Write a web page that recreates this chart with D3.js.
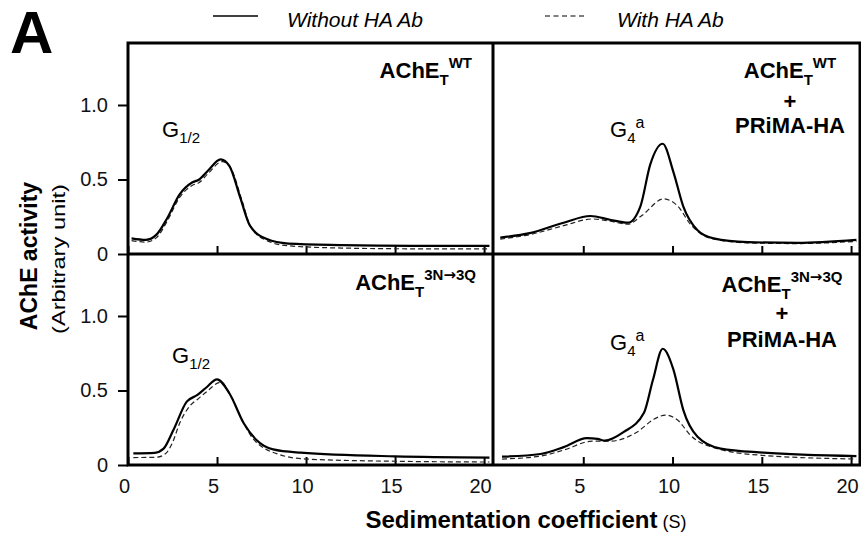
<!DOCTYPE html>
<html>
<head>
<meta charset="utf-8">
<script src="https://cdn.jsdelivr.net/npm/d3@7"></script>
<style>
  body { margin: 0; background: #fff; }
  svg { display: block; font-family: "Liberation Sans", Arial, sans-serif; }
</style>
</head>
<body>
<svg id="chart" width="861" height="535"></svg>
<script>
// sedimentation coefficient (S) vs AChE activity
const xTicksLeft = [0, 5, 10, 15, 20];
const xTicksRight = [5, 10, 15, 20];
const yTicks = [0, 0.5, 1.0];

const wtWithout = [[0.2,0.105],[1.0,0.095],[1.6,0.13],[2.2,0.24],[2.9,0.40],[3.6,0.48],[4.0,0.50],[4.5,0.56],[5.2,0.635],[5.7,0.59],[6.3,0.38],[6.85,0.19],[7.8,0.10],[9.0,0.07],[12,0.06],[16,0.055],[20.3,0.055]];
const wtWith = [[0.2,0.09],[1.0,0.08],[1.6,0.11],[2.2,0.22],[2.9,0.38],[3.6,0.46],[4.0,0.48],[4.5,0.54],[5.3,0.62],[5.8,0.57],[6.4,0.36],[6.9,0.18],[7.8,0.09],[9.0,0.055],[12,0.04],[16,0.035],[20.3,0.035]];

const wtPrimaWithout = [[0.35,0.11],[2.0,0.14],[3.9,0.21],[5.4,0.255],[6.5,0.23],[7.5,0.21],[8.2,0.32],[8.75,0.60],[9.45,0.74],[10.05,0.55],[10.6,0.32],[11.4,0.16],[12.3,0.105],[14.2,0.08],[17.0,0.075],[20.3,0.095]];
const wtPrimaWith = [[0.35,0.10],[2.0,0.13],[3.9,0.19],[5.5,0.235],[6.5,0.22],[7.5,0.20],[8.3,0.26],[9.5,0.37],[10.3,0.32],[11.0,0.20],[11.8,0.12],[12.8,0.09],[14.2,0.075],[17.0,0.07],[20.3,0.085]];

const mutWithout = [[0.3,0.078],[1.5,0.082],[2.0,0.11],[2.55,0.235],[3.3,0.425],[3.9,0.47],[4.4,0.52],[5.0,0.575],[5.7,0.48],[6.5,0.28],[7.2,0.17],[8.15,0.105],[9.7,0.083],[15,0.058],[20.3,0.05]];
const mutWith = [[0.3,0.05],[1.6,0.052],[2.1,0.075],[2.5,0.15],[2.9,0.28],[3.5,0.40],[3.9,0.44],[4.4,0.49],[5.2,0.555],[5.8,0.46],[6.5,0.28],[7.0,0.18],[8.5,0.07],[10,0.04],[15,0.025],[20.3,0.02]];

const mutPrimaWithout = [[0.45,0.056],[2.6,0.074],[3.9,0.12],[5.2,0.18],[5.8,0.175],[6.2,0.163],[7.25,0.22],[8.4,0.35],[8.9,0.57],[9.45,0.78],[10.05,0.64],[10.6,0.37],[11.4,0.19],[12.7,0.11],[15.1,0.083],[20.3,0.06]];
const mutPrimaWith = [[0.45,0.04],[2.6,0.06],[3.9,0.10],[5.5,0.16],[6.5,0.16],[8.0,0.22],[9.0,0.31],[9.6,0.335],[10.3,0.30],[11.0,0.20],[12.5,0.11],[15,0.065],[20.3,0.04]];

const svg = d3.select('#chart');
const font = '"Liberation Sans", Arial, sans-serif';

const frameL = 128, frameMid = 493, frameR = 860;
const frameT = 43, frameMidY = 254, frameB = 465;
const xMax = 20.5, yMax = 1.416;

const panels = [
  { col: 0, row: 0, solid: wtWithout, dashed: wtWith },
  { col: 1, row: 0, solid: wtPrimaWithout, dashed: wtPrimaWith },
  { col: 0, row: 1, solid: mutWithout, dashed: mutWith },
  { col: 1, row: 1, solid: mutPrimaWithout, dashed: mutPrimaWith }
];

panels.forEach(p => {
  const x0 = p.col === 0 ? frameL : frameMid + 1;
  const x1 = p.col === 0 ? frameMid : frameR;
  const y0 = p.row === 0 ? frameMidY : frameB;
  const y1 = p.row === 0 ? frameT : frameMidY;

  const x = d3.scaleLinear().domain([0, xMax]).range([x0, x1]);
  const y = d3.scaleLinear().domain([0, yMax]).range([y0, y1]);

  // bottom ticks pointing inward
  const xAxis = d3.axisBottom(x)
    .tickValues(p.col === 0 ? xTicksLeft : xTicksRight)
    .tickSizeInner(-8).tickSizeOuter(0).tickPadding(18);
  if (p.row === 0) xAxis.tickFormat('');
  const gx = svg.append('g').attr('transform', `translate(0,${y0})`).call(xAxis);
  gx.select('.domain').remove();
  gx.selectAll('line').attr('stroke', '#000').attr('stroke-width', 2);
  gx.selectAll('text').attr('font-size', 20).attr('font-family', font).attr('fill', '#111').attr('dx', -4).attr('dy', '0.5em');

  if (p.col === 0) {
    const gy = svg.append('g').attr('transform', `translate(${frameL},0)`)
      .call(d3.axisLeft(y).tickValues(yTicks).tickSizeInner(10).tickSizeOuter(0).tickPadding(10)
        .tickFormat(d => d === 0 ? '0' : d3.format('.1f')(d)));
    gy.select('.domain').remove();
    gy.selectAll('line').attr('stroke', '#000').attr('stroke-width', 2);
    gy.selectAll('text').attr('font-size', 20).attr('font-family', font).attr('fill', '#111');
  }

  const line = d3.line().x(d => x(d[0])).y(d => y(d[1])).curve(d3.curveMonotoneX);
  svg.append('path').datum(p.dashed).attr('d', line)
    .attr('fill', 'none').attr('stroke', '#222').attr('stroke-width', 1.2).attr('stroke-dasharray', '5,3');
  svg.append('path').datum(p.solid).attr('d', line)
    .attr('fill', 'none').attr('stroke', '#000').attr('stroke-width', 2.2);
});

// frame
const frame = svg.append('g').attr('stroke', '#000').attr('stroke-width', 3).attr('fill', 'none');
frame.append('rect').attr('x', frameL).attr('y', frameT).attr('width', frameR - frameL).attr('height', frameB - frameT);
frame.append('line').attr('x1', frameMid).attr('x2', frameMid).attr('y1', frameT).attr('y2', frameB);
frame.append('line').attr('x1', frameL).attr('x2', frameR).attr('y1', frameMidY).attr('y2', frameMidY);

// text helpers
function richText(xp, yp, anchor, parts) {
  const t = svg.append('text').attr('x', xp).attr('y', yp).attr('text-anchor', anchor)
    .attr('font-family', font).attr('fill', '#000');
  parts.forEach(pt => {
    const s = t.append('tspan').text(pt.t).attr('font-size', pt.size);
    if (pt.bold) s.attr('font-weight', 'bold');
    if (pt.italic) s.attr('font-style', 'italic');
    if (pt.dy) s.attr('dy', pt.dy);
    if (pt.family) s.attr('font-family', pt.family);
  });
  return t;
}
function acheLabel(xp, yp, anchor, sup) {
  const parts = [
    { t: 'AChE', size: 22, bold: true },
    { t: 'T', size: 15, bold: true, dy: 7 }
  ];
  if (sup === 'WT') {
    parts.push({ t: 'WT', size: 15, bold: true, dy: -17 });
  } else {
    parts.push({ t: '3N', size: 15, bold: true, dy: -17 });
    parts.push({ t: '\u2192', size: 15, bold: true, family: '"DejaVu Sans", sans-serif' });
    parts.push({ t: '3Q', size: 15, bold: true });
  }
  return richText(xp, yp, anchor, parts);
}

acheLabel(472, 78, 'end', 'WT');
acheLabel(476, 290, 'end', 'mut');

acheLabel(790, 78, 'middle', 'WT');
richText(790, 109, 'middle', [{ t: '+', size: 22, bold: true }]);
richText(790, 133, 'middle', [{ t: 'PRiMA-HA', size: 22, bold: true }]);

acheLabel(782, 292, 'middle', 'mut');
richText(782, 321, 'middle', [{ t: '+', size: 22, bold: true }]);
richText(782, 347, 'middle', [{ t: 'PRiMA-HA', size: 22, bold: true }]);

// peak labels
richText(162, 137, 'start', [{ t: 'G', size: 22 }, { t: '1/2', size: 15, dy: 6 }]);
richText(172, 363, 'start', [{ t: 'G', size: 22 }, { t: '1/2', size: 15, dy: 6 }]);
richText(610, 137, 'start', [{ t: 'G', size: 22 }, { t: '4', size: 15, dy: 6 }, { t: 'a', size: 16, dy: -15 }]);
richText(610, 350, 'start', [{ t: 'G', size: 22 }, { t: '4', size: 15, dy: 6 }, { t: 'a', size: 16, dy: -15 }]);

// panel letter
richText(10, 53, 'start', [{ t: 'A', size: 60, bold: true }]);

// legend
svg.append('line').attr('x1', 213).attr('x2', 258).attr('y1', 16).attr('y2', 16).attr('stroke', '#000').attr('stroke-width', 1.5);
richText(287, 27, 'start', [{ t: 'Without HA Ab', size: 21, italic: true }]);
svg.append('line').attr('x1', 545).attr('x2', 585).attr('y1', 16).attr('y2', 16).attr('stroke', '#000').attr('stroke-width', 1.2).attr('stroke-dasharray', '5,3.5');
richText(617, 27, 'start', [{ t: 'With HA Ab', size: 21, italic: true }]);

// axis titles
richText(526, 528, 'middle', [{ t: 'Sedimentation coefficient', size: 24, bold: true }, { t: ' (S)', size: 18 }]);
svg.append('text').attr('transform', 'translate(37,256) rotate(-90)').attr('text-anchor', 'middle')
  .attr('font-family', font).attr('font-weight', 'bold').attr('font-size', 23).text('AChE activity');
svg.append('text').attr('transform', 'translate(65,259) rotate(-90)').attr('text-anchor', 'middle')
  .attr('font-family', font).attr('font-size', 18)
  .attr('textLength', 150).attr('lengthAdjust', 'spacingAndGlyphs').text('(Arbitrary unit)');
</script>
</body>
</html>
